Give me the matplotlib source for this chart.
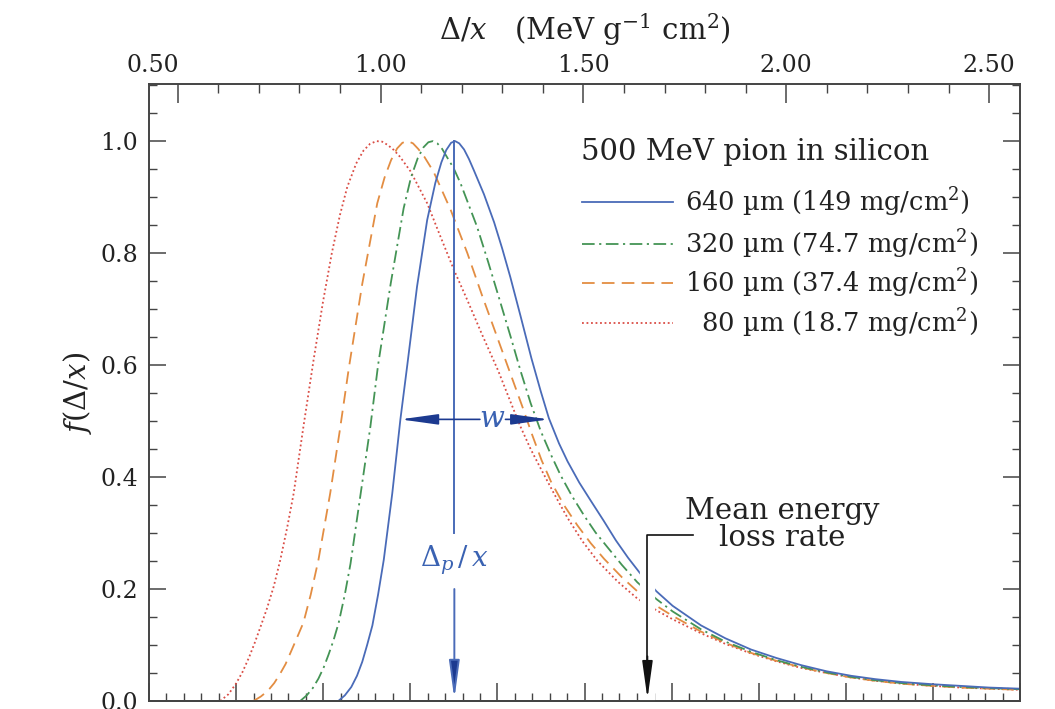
import matplotlib
matplotlib.use("Agg")
import matplotlib.pyplot as plt
import matplotlib.transforms as mtransforms
from matplotlib.ticker import MultipleLocator

plt.rcParams['font.family'] = ['DejaVu Serif']
plt.rcParams['mathtext.fontset'] = 'dejavuserif'

# ---------------- data ----------------
# conversion: 1 MeV g^-1 cm^2 in silicon (rho = 2.329 g/cm^3) = 232.9 eV/um
EV_PER_UM = 232.9
x_range_evum = [100, 600]

x_640 = [0.896, 0.912, 0.928, 0.942, 0.955, 0.967, 0.980, 0.994, 1.008, 1.029, 1.049, 1.066,
         1.090, 1.115, 1.135, 1.150, 1.162, 1.174, 1.184, 1.194, 1.206, 1.218, 1.230, 1.255,
         1.280, 1.300, 1.320, 1.345, 1.372, 1.395, 1.415, 1.440, 1.461, 1.490, 1.518, 1.550,
         1.580, 1.610, 1.640, 1.680, 1.720, 1.790, 1.850, 1.913, 1.975, 2.037, 2.100, 2.160,
         2.220, 2.284, 2.360, 2.430, 2.500, 2.576]
y_640 = [0.000, 0.010, 0.025, 0.045, 0.070, 0.100, 0.135, 0.190, 0.252, 0.371, 0.503, 0.600,
         0.740, 0.859, 0.925, 0.962, 0.984, 0.997, 1.000, 0.996, 0.985, 0.968, 0.948, 0.905,
         0.855, 0.808, 0.757, 0.688, 0.612, 0.553, 0.505, 0.460, 0.428, 0.390, 0.358, 0.322,
         0.287, 0.256, 0.228, 0.196, 0.170, 0.135, 0.112, 0.092, 0.077, 0.064, 0.053, 0.045,
         0.039, 0.034, 0.030, 0.027, 0.024, 0.022]

x_320 = [0.802, 0.818, 0.833, 0.847, 0.860, 0.872, 0.884, 0.897, 0.912, 0.926, 0.950, 0.975,
         0.994, 1.025, 1.057, 1.075, 1.092, 1.106, 1.118, 1.129, 1.140, 1.152, 1.165, 1.180,
         1.197, 1.238, 1.265, 1.290, 1.321, 1.345, 1.370, 1.395, 1.420, 1.444, 1.472, 1.502,
         1.530, 1.559, 1.595, 1.633, 1.680, 1.720, 1.790, 1.850, 1.913, 1.975, 2.037, 2.100,
         2.160, 2.220, 2.284, 2.360, 2.430, 2.500, 2.576]
y_320 = [0.000, 0.010, 0.023, 0.040, 0.060, 0.083, 0.108, 0.140, 0.190, 0.245, 0.365, 0.490,
         0.600, 0.745, 0.880, 0.935, 0.970, 0.989, 0.998, 1.000, 0.996, 0.986, 0.970, 0.952,
         0.925, 0.847, 0.785, 0.725, 0.650, 0.590, 0.532, 0.482, 0.440, 0.403, 0.366, 0.331,
         0.301, 0.275, 0.243, 0.212, 0.182, 0.160, 0.128, 0.106, 0.088, 0.073, 0.061, 0.051,
         0.043, 0.037, 0.032, 0.028, 0.025, 0.023, 0.021]

x_160 = [0.687, 0.705, 0.722, 0.738, 0.752, 0.766, 0.778, 0.790, 0.800, 0.810, 0.828, 0.847,
         0.876, 0.899, 0.922, 0.955, 0.992, 1.010, 1.026, 1.041, 1.054, 1.067, 1.080, 1.093,
         1.108, 1.131, 1.173, 1.214, 1.250, 1.290, 1.325, 1.350, 1.374, 1.397, 1.420, 1.452,
         1.485, 1.518, 1.551, 1.595, 1.642, 1.680, 1.720, 1.790, 1.850, 1.913, 1.975, 2.037,
         2.100, 2.160, 2.220, 2.284, 2.360, 2.430, 2.500, 2.576]
y_160 = [0.000, 0.008, 0.018, 0.032, 0.048, 0.066, 0.086, 0.106, 0.123, 0.140, 0.190, 0.252,
         0.371, 0.480, 0.595, 0.745, 0.889, 0.935, 0.966, 0.987, 0.997, 1.000, 0.996, 0.986,
         0.972, 0.945, 0.877, 0.800, 0.725, 0.645, 0.575, 0.525, 0.475, 0.430, 0.392, 0.350,
         0.314, 0.282, 0.254, 0.221, 0.190, 0.170, 0.152, 0.124, 0.104, 0.086, 0.072, 0.060,
         0.050, 0.042, 0.036, 0.031, 0.027, 0.024, 0.022, 0.020]

x_80 = [0.605, 0.625, 0.643, 0.660, 0.676, 0.690, 0.704, 0.720, 0.737, 0.753, 0.770, 0.786,
        0.810, 0.835, 0.858, 0.880, 0.900, 0.918, 0.940, 0.958, 0.974, 0.990, 1.004, 1.018,
        1.033, 1.048, 1.074, 1.115, 1.148, 1.181, 1.214, 1.250, 1.290, 1.320, 1.345, 1.370,
        1.395, 1.428, 1.461, 1.498, 1.535, 1.585, 1.633, 1.680, 1.720, 1.790, 1.850, 1.913,
        1.975, 2.037, 2.100, 2.160, 2.220, 2.284, 2.360, 2.430, 2.500, 2.576]
y_80 = [0.000, 0.012, 0.030, 0.052, 0.078, 0.104, 0.132, 0.165, 0.205, 0.252, 0.310, 0.371,
        0.490, 0.609, 0.712, 0.800, 0.868, 0.918, 0.960, 0.983, 0.995, 1.000, 0.999, 0.993,
        0.984, 0.972, 0.946, 0.889, 0.829, 0.770, 0.716, 0.655, 0.590, 0.535, 0.490, 0.450,
        0.415, 0.370, 0.327, 0.285, 0.250, 0.213, 0.183, 0.162, 0.146, 0.121, 0.102, 0.085,
        0.071, 0.059, 0.050, 0.042, 0.036, 0.031, 0.027, 0.024, 0.022, 0.020]

series_labels = ["640 µm (149 mg/cm$^2$)", "320 µm (74.7 mg/cm$^2$)",
                 "160 µm (37.4 mg/cm$^2$)", "\u200780 µm (18.7 mg/cm$^2$)"]
legend_title = "500 MeV pion in silicon"

top_ticks = [0.50, 1.00, 1.50, 2.00, 2.50]
top_ticklabels = ["0.50", "1.00", "1.50", "2.00", "2.50"]
y_ticks = [0.0, 0.2, 0.4, 0.6, 0.8, 1.0]
y_ticklabels = ["0.0", "0.2", "0.4", "0.6", "0.8", "1.0"]

delta_p = 1.182          # most probable value (640 um)
half_max = 0.503
w_left, w_right = 1.049, 1.415
mean_loss = 1.658

# ---------------- styling ----------------
c_blue, c_green, c_orange, c_red = '#4a6bb8', '#449455', '#e38d42', '#da4d45'
c_arrow = '#1c3a90'
c_text_blue = '#3a62b2'
ink = '#222222'
tick_c = '#444444'

fig = plt.figure(figsize=(10.55, 7.09), dpi=100)
ax = fig.add_axes([149/1055, 8/709, 871/1055, 617/709])
ax.set_xlim(x_range_evum[0]/EV_PER_UM, x_range_evum[1]/EV_PER_UM)
ax.set_ylim(0, 1.102)
ax.set_axisbelow(False)

styles = [dict(color=c_blue, ls='-'),
          dict(color=c_green, ls=(0, (7, 2.5, 1.2, 2.5))),
          dict(color=c_orange, ls=(0, (7, 4))),
          dict(color=c_red, ls=(0, (1, 1.5)))]
datas = [(x_640, y_640), (x_320, y_320), (x_160, y_160), (x_80, y_80)]
for (xs, ys), st in zip(datas[::-1], styles[::-1]):
    ax.plot(xs, ys, lw=1.3, zorder=2, solid_joinstyle='round', **st)

# spines & ticks
for s in ax.spines.values():
    s.set_color(tick_c)
    s.set_linewidth(1.4)

ax.xaxis.tick_top()
ax.xaxis.set_label_position('top')
ax.set_xticks(top_ticks)
ax.set_xticklabels(top_ticklabels)
ax.xaxis.set_minor_locator(MultipleLocator(0.1))
ax.tick_params(axis='x', which='major', direction='in', length=13.5, width=1.1,
               color=tick_c, labelsize=17, pad=5, labelcolor=ink,
               top=True, bottom=False, labeltop=True, labelbottom=False)
ax.tick_params(axis='x', which='minor', direction='in', length=6.5, width=1.0,
               color=tick_c, top=True, bottom=False)

ax.set_yticks(y_ticks)
ax.set_yticklabels(y_ticklabels)
ax.yaxis.set_minor_locator(MultipleLocator(0.05))
ax.tick_params(axis='y', which='major', direction='in', length=12, width=1.1,
               color=tick_c, labelsize=17, pad=8, labelcolor=ink, left=True, right=True)
ax.tick_params(axis='y', which='minor', direction='in', length=6, width=1.0,
               color=tick_c, left=True, right=True)

# shift the "0.50" label to the left, as in the reference
fig.canvas.draw()
first = ax.xaxis.get_major_ticks()[0]
first.label2.set_transform(first.label2.get_transform() +
                           mtransforms.ScaledTranslation(-0.25, 0, fig.dpi_scale_trans))

# bottom axis in eV/um (its labels fall outside the picture)
sec = ax.secondary_xaxis('bottom', functions=(lambda m: m*EV_PER_UM, lambda e: e/EV_PER_UM))
sec.set_xticks(list(range(100, 601, 50)))
sec.xaxis.set_minor_locator(MultipleLocator(10))
sec.tick_params(which='major', direction='in', length=13, width=1.1, color=tick_c,
                labelbottom=False)
sec.tick_params(which='minor', direction='in', length=6, width=1.0, color=tick_c)
sec.spines['bottom'].set_color(tick_c)
sec.spines['bottom'].set_linewidth(1.4)

ax.set_xlabel(r"$\Delta/x$   (MeV g$^{-1}$ cm$^{2}$)", fontsize=21, color=ink)
ax.xaxis.set_label_coords(0.5, 1 + 54/617)
ax.xaxis.label.set_va('center')
ax.set_ylabel(r"$f(\Delta/x)$", fontsize=21, color=ink)
ax.yaxis.set_label_coords(-71/871, 0.5)
ax.yaxis.label.set_va('center')

# legend (manual layout)
ax.text(0.496, 0.890, legend_title, transform=ax.transAxes, fontsize=21,
        va='center', ha='left', color=ink)
leg_y = [0.809, 0.741, 0.677, 0.613]
for yy, lab, st in zip(leg_y, series_labels, styles):
    ax.plot([0.497, 0.602], [yy, yy], transform=ax.transAxes, lw=1.3, **st)
    ax.text(0.6154, yy, lab, transform=ax.transAxes, fontsize=18.5, va='center',
            ha='left', color=ink)

head = '-|>,head_length=1.15,head_width=0.16'

# Delta_p / x marker
ax.plot([delta_p, delta_p], [1.0, 0.300], color=c_blue, lw=1.4, zorder=3)
ax.annotate('', xy=(delta_p, 0.004), xytext=(delta_p, 0.200),
            arrowprops=dict(arrowstyle=head, lw=1.4, mutation_scale=20, shrinkA=0,
                            shrinkB=0, fc=c_arrow, ec=c_blue), zorder=3)
ax.text(delta_p, 0.252, r"$\Delta_p\,/\,x$", color=c_text_blue, fontsize=20,
        ha='center', va='center', zorder=3)

# w (FWHM) arrows
arrow_kw = dict(arrowstyle=head, color=c_arrow, lw=1.2, mutation_scale=20,
                shrinkA=0, shrinkB=0)
ax.annotate('', xy=(w_left, half_max), xytext=(1.245, half_max),
            arrowprops=arrow_kw, zorder=3)
ax.annotate('', xy=(w_right, half_max), xytext=(1.308, half_max),
            arrowprops=arrow_kw, zorder=3)
ax.text(1.276, half_max, r"$w$", color=c_text_blue, fontsize=21, ha='center',
        va='center', zorder=3)

# mean energy loss rate marker
ax.plot([mean_loss, mean_loss], [0.0, 0.296], color='white', lw=11, zorder=2.1,
        solid_capstyle='butt')
ax.plot([1.769, mean_loss, mean_loss], [0.296, 0.296, 0.06], color='#111111', lw=1.2,
        zorder=3)
ax.annotate('', xy=(mean_loss, 0.004), xytext=(mean_loss, 0.08),
            arrowprops=dict(arrowstyle=head, color='#111111', lw=1.2,
                            mutation_scale=20, shrinkA=0, shrinkB=0), zorder=3)
ax.text(1.99, 0.315, "Mean energy\nloss rate", fontsize=21, ha='center', va='center',
        linespacing=0.95, color=ink, zorder=3)

fig.savefig("out.png", dpi=100)
